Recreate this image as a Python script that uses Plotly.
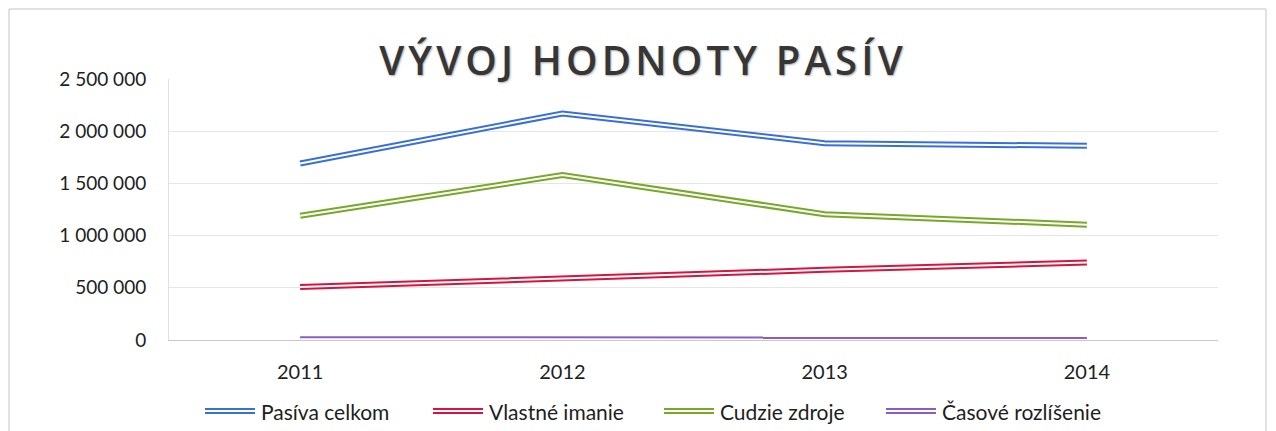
import plotly.graph_objects as go

years = ["2011", "2012", "2013", "2014"]
pasiva_celkom = [1690000, 2170000, 1885000, 1860000]
vlastne_imanie = [507000, 593000, 672000, 742000]
cudzie_zdroje = [1190000, 1580000, 1205000, 1105000]
casove_rozlisenie = [8000, 6000, 5000, 4000]

series_names = ["Pasíva celkom", "Vlastné imanie", "Cudzie zdroje", "Časové rozlíšenie"]
series_values = [pasiva_celkom, vlastne_imanie, cudzie_zdroje, casove_rozlisenie]
colors = ["#3A6FD8", "#D4153F", "#78A82A", "#8A5CC8"]

y_ticks = [0, 500000, 1000000, 1500000, 2000000, 2500000]

# page is offset by the default 8px body margin
OFF = 8
PAGE_W, PAGE_H = 1276, 431
W, H = PAGE_W - OFF, PAGE_H - OFF
# plot area in page coordinates
PL, PR, PT, PB = 169, 1218, 79, 340
L, R, T, B = PL - OFF, W - (PR - OFF), PT - OFF, H - (PB - OFF)
pw, ph = PR - PL, PB - PT

def px_x(x):
    return (x - PL) / pw

def px_y(y):
    return (PB - y) / ph

fig = go.Figure()
for name, vals, col in zip(series_names, series_values, colors):
    fig.add_trace(go.Scatter(x=years, y=vals, mode="lines", name=name,
                             line=dict(color=col, width=6), showlegend=False,
                             hoverinfo="skip"))
    fig.add_trace(go.Scatter(x=years, y=vals, mode="lines", name=name,
                             line=dict(color="white", width=2), showlegend=False))

shapes = []
annotations = []
# chart area border
shapes.append(dict(type="rect", xref="paper", yref="paper",
                   x0=px_x(9), x1=px_x(1266), y0=px_y(445), y1=px_y(9),
                   line=dict(color="#c4c4c4", width=1), fillcolor="rgba(0,0,0,0)",
                   layer="below"))

# manual legend with double-line symbols
legend_sym_x = [205, 433, 664, 886]
for name, col, sx in zip(series_names, colors, legend_sym_x):
    yy = px_y(411)
    shapes.append(dict(type="line", xref="paper", yref="paper",
                       x0=px_x(sx), x1=px_x(sx + 50), y0=yy, y1=yy,
                       line=dict(color=col, width=6)))
    shapes.append(dict(type="line", xref="paper", yref="paper",
                       x0=px_x(sx), x1=px_x(sx + 50), y0=yy, y1=yy,
                       line=dict(color="white", width=1.8)))
    annotations.append(dict(text=name, xref="paper", yref="paper",
                            x=px_x(sx + 54), y=yy, xanchor="left", yanchor="middle",
                            showarrow=False,
                            font=dict(family="Lato, Carlito, Calibri, sans-serif",
                                      size=21, color="#1e1e1e")))

fig.update_layout(
    width=W, height=H,
    margin=dict(l=L, r=R, t=T, b=B),
    paper_bgcolor="white", plot_bgcolor="white",
    separators=", ",
    showlegend=False,
    title=dict(text='<span style="letter-spacing:4.2px">VÝVOJ HODNOTY PASÍV</span>',
               xref="container", x=(643 - OFF) / W, xanchor="center",
               yref="container", y=1 - (61 - OFF) / H, yanchor="middle",
               font=dict(family="Open Sans, sans-serif", size=40,
                         weight=600, color="#363636",
                         shadow="1px 1px 2px #a8a8a8")),
    shapes=shapes,
    annotations=annotations,
    xaxis=dict(type="category", range=[-0.5, 3.5], showgrid=False,
               showline=True, linecolor="#c8c8c8", linewidth=1,
               ticks="", ticklabelstandoff=14,
               tickfont=dict(family="Lato, Calibri, sans-serif", size=20, color="#1e1e1e")),
    yaxis=dict(range=[0, 2500000], tickvals=y_ticks, tickformat=",.0f",
               showgrid=True, gridcolor="#e6e6e6", gridwidth=1,
               zeroline=False, showline=True, linecolor="#e0e0e0",
               ticks="", ticklabelstandoff=18,
               tickfont=dict(family="Lato, Calibri, sans-serif", size=19, color="#1e1e1e")),
)

fig.write_html("out.html")
